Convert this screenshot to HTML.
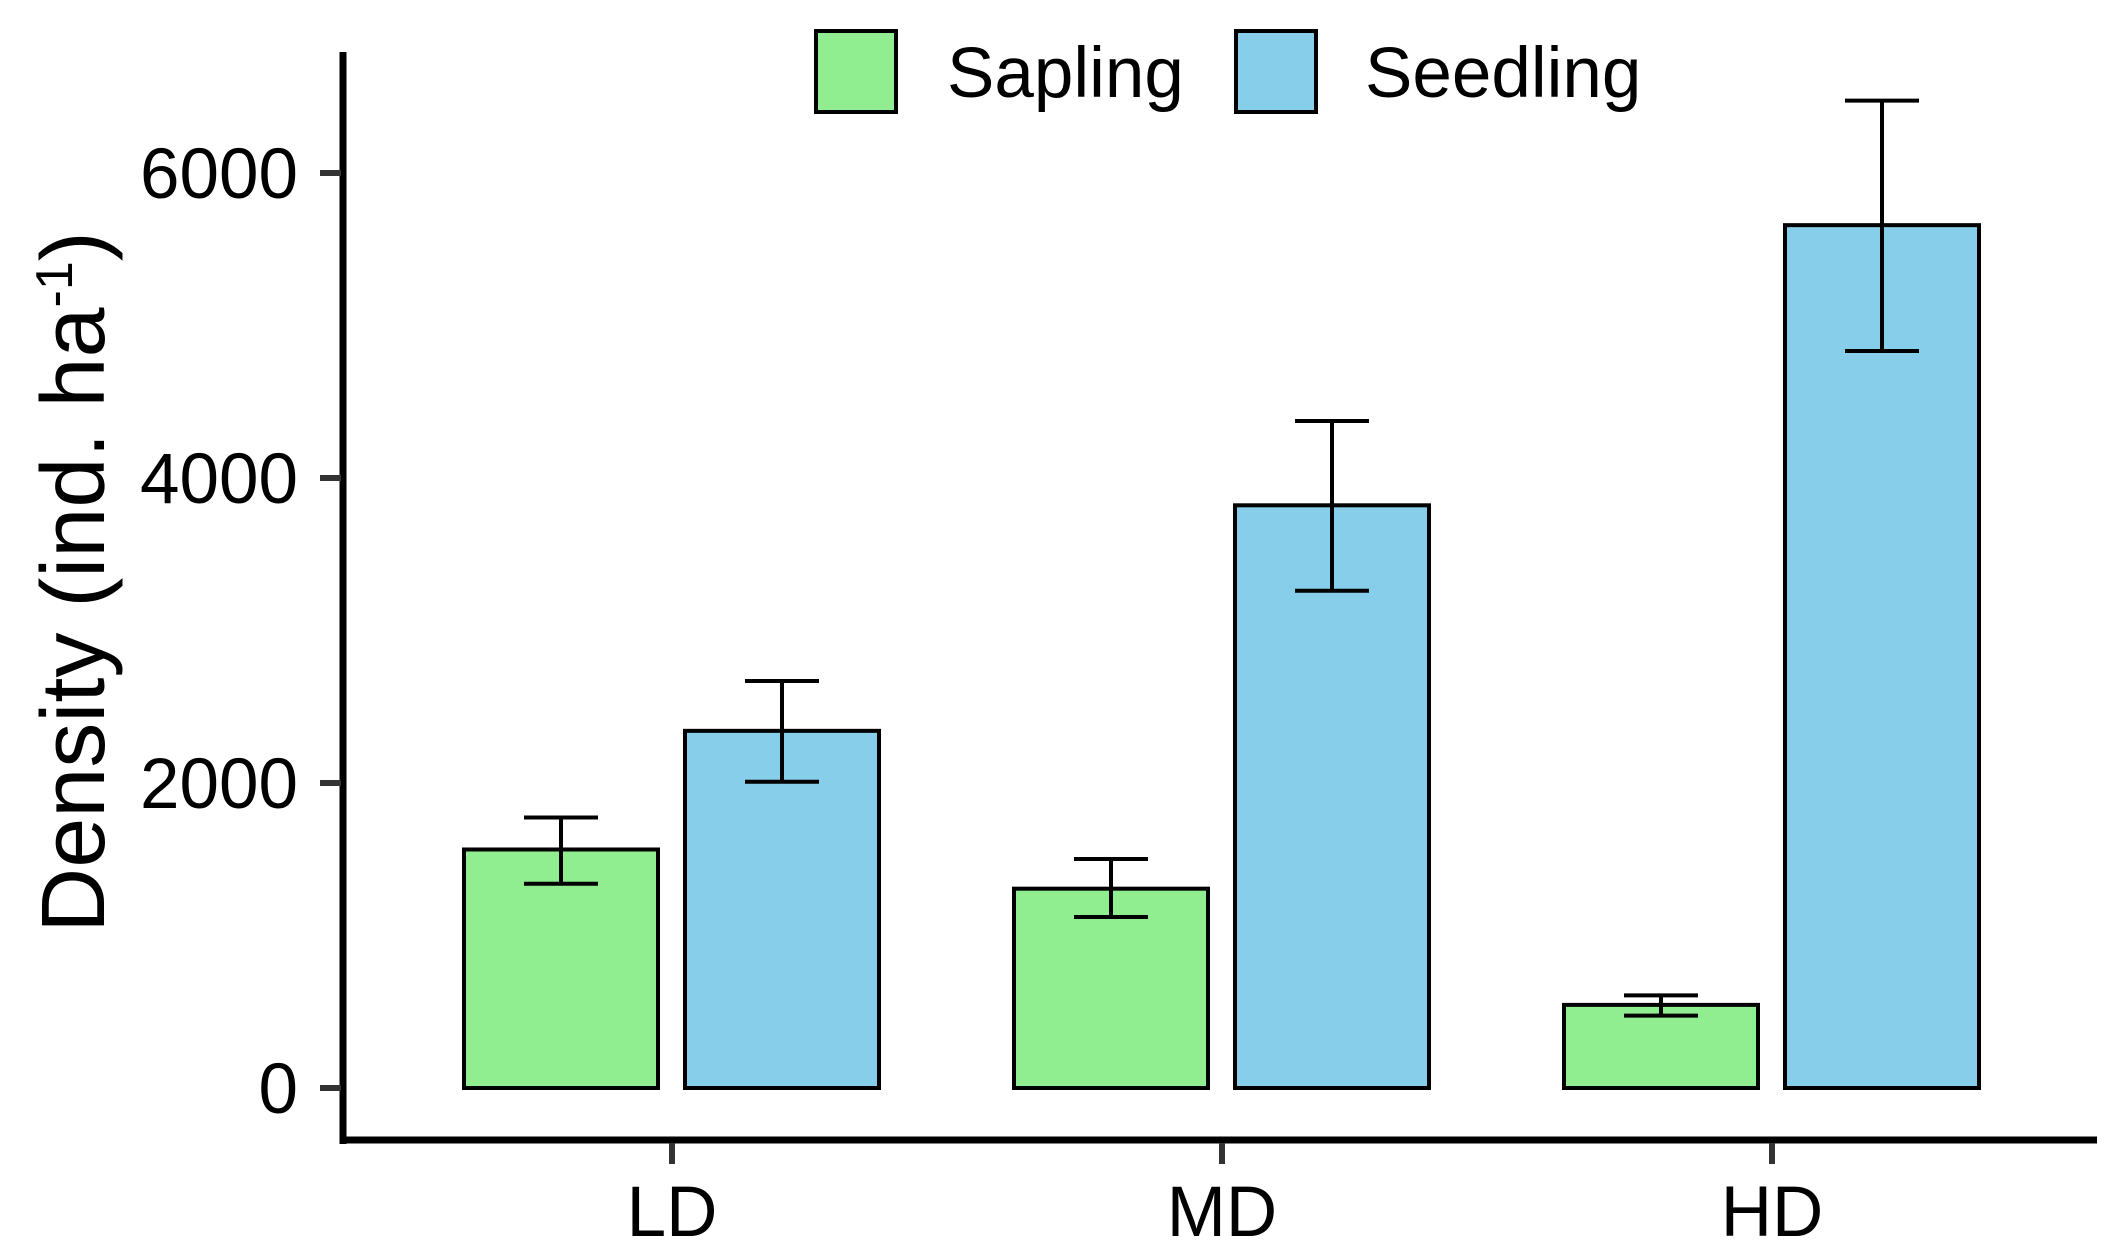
<!DOCTYPE html>
<html><head><meta charset="utf-8"><style>
html,body{margin:0;padding:0;background:#fff;}
svg{display:block;font-family:"Liberation Sans",Arial,sans-serif;}
</style></head><body>
<svg id="chart" width="2124" height="1259" viewBox="0 0 2124 1259">
<g id="legend">
  <rect x="816" y="31" width="80" height="81" fill="#90EE90" stroke="#000" stroke-width="4"/>
  <text x="947" y="97" font-size="71">Sapling</text>
  <rect x="1236" y="31" width="80" height="81" fill="#87CEEB" stroke="#000" stroke-width="4"/>
  <text x="1365" y="97" font-size="71">Seedling</text>
</g>
<g id="bars"></g>
<g id="axes"></g>
<text transform="translate(104,582) rotate(-90)" text-anchor="middle" font-size="90">Density (ind. ha<tspan dy="-32" font-size="52">-1</tspan><tspan dy="32">)</tspan></text>
</svg>
<script>
const categories = ["LD","MD","HD"];
const sapling = [1564, 1307, 545];
const saplingLo = [1339, 1121, 475];
const saplingHi = [1774, 1502, 607];
const seedling = [2342, 3821, 5658];
const seedlingLo = [2008, 3261, 4833];
const seedlingHi = [2669, 4374, 6475];
const yTicks = [0, 2000, 4000, 6000];

const NS = "http://www.w3.org/2000/svg";
const y = v => 1088 - v * (305/2000);
const x = i => 672 + i * 550;
function mk(tag, attrs, parent){const e=document.createElementNS(NS,tag);for(const k in attrs)e.setAttribute(k,attrs[k]);parent.appendChild(e);return e;}
const bars=document.getElementById('bars'), axes=document.getElementById('axes');
const series=[{vals:sapling,lo:saplingLo,hi:saplingHi,off:-111,fill:"#90EE90",n:"sapling"},{vals:seedling,lo:seedlingLo,hi:seedlingHi,off:110,fill:"#87CEEB",n:"seedling"}];
series.forEach(s=>{
  categories.forEach((c,i)=>{
    const cx=x(i)+s.off;
    const r=mk('rect',{x:cx-97,y:y(s.vals[i]),width:194,height:y(0)-y(s.vals[i]),fill:s.fill,stroke:"#000","stroke-width":4},bars);
    
    
    const g=mk('g',{stroke:"#000","stroke-width":4},bars);
    
    
    mk('line',{x1:cx,x2:cx,y1:y(s.hi[i]),y2:y(s.lo[i])},g);
    mk('line',{x1:cx-37,x2:cx+37,y1:y(s.hi[i]),y2:y(s.hi[i])},g);
    mk('line',{x1:cx-37,x2:cx+37,y1:y(s.lo[i]),y2:y(s.lo[i])},g);
  });
});
const ya=mk('line',{x1:343,x2:343,y1:52,y2:1144,stroke:"#000","stroke-width":7},axes);


const xa=mk('line',{x1:340,x2:2097,y1:1140,y2:1140,stroke:"#000","stroke-width":7},axes);


yTicks.forEach(t=>{
  mk('line',{x1:320,x2:341,y1:y(t),y2:y(t),stroke:"#333","stroke-width":6},axes);
  const tx=mk('text',{x:298,y:y(t)+25,"text-anchor":"end","font-size":71},axes);
  tx.textContent=t;
  
  
});
categories.forEach((c,i)=>{
  mk('line',{x1:x(i),x2:x(i),y1:1143,y2:1164,stroke:"#333","stroke-width":6},axes);
  const tx=mk('text',{x:x(i),y:1236,"text-anchor":"middle","font-size":71},axes);
  tx.textContent=c;
  
  
});
</script>
</body></html>
